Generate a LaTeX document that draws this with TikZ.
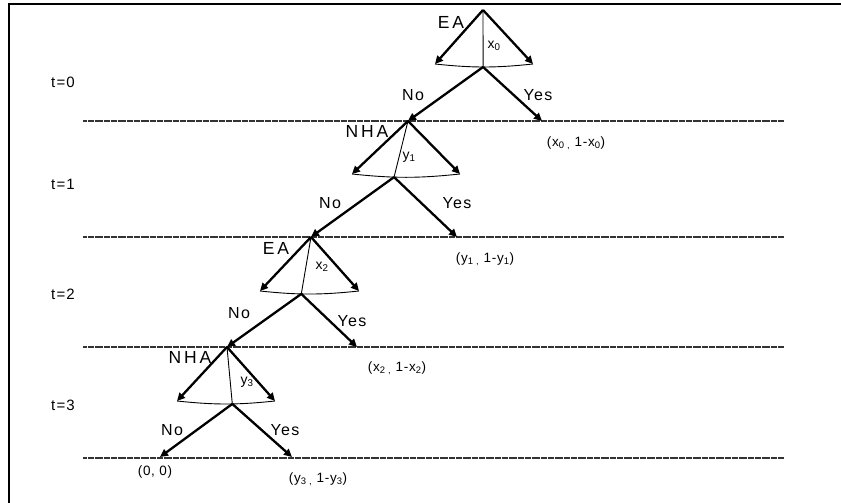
\documentclass[tikz,border=0pt]{standalone}
\usepackage{fontspec}
\setmainfont{Liberation Sans}
\usetikzlibrary{arrows.meta}

\tikzset{
  move/.style={line width=2.3pt, -{Triangle[length=8pt,width=7.5pt]}},
  stem/.style={line width=0.9pt},
  period/.style={line width=1.6pt, black!80, dash pattern=on 2pt off 0.3pt},
  player/.style={font=\fontsize{17.5}{19}\selectfont\addfontfeature{LetterSpace=16}},
  answer/.style={font=\fontsize{16}{18}\selectfont\addfontfeature{LetterSpace=9}},
  offer/.style={font=\fontsize{14}{16}\selectfont},
  payoff/.style={font=\fontsize{13.5}{15}\selectfont\addfontfeature{LetterSpace=5}},
  stage/.style={font=\fontsize{15}{17}\selectfont\addfontfeature{LetterSpace=8}},
}

\begin{document}
\begin{tikzpicture}[x=1pt, y=-1pt]
  \useasboundingbox (0,0) rectangle (841,503);
  % frame
  \draw[line width=1.2pt] (9,503) -- (9,4) -- (841,4);
  % periods
  \foreach \y in {121,237,347,458} {\draw[period] (83,\y) -- (784,\y);}
  \foreach \t/\y in {0/82,1/184,2/294,3/405} {\node[stage] (t\t) at (63,\y) {t=\t};}

  % t=0 : EA offers x0
  \coordinate (a0) at (483,10);
  \coordinate (l0) at (435,64);
  \coordinate (r0) at (533,64);
  \coordinate (a1) at (408,121);
  \coordinate (e0) at (542,121);
  \draw[move] (a0) -- (l0);
  \draw[move] (a0) -- (r0);
  \draw[stem] (l0) to[bend right=6] node[pos=0.49, coordinate] (s0) {} (r0);
  \draw[stem] (a0) -- (s0);
  \draw[move] (s0) -- (a1);
  \draw[move] (s0) -- (e0);
  \node[player] (p0) at (451,22) {EA};
  \node[offer] (o0) at (494,46) {x\textsubscript{0}};
  \node[answer] (n0) at (413,95) {No};
  \node[answer] (y0) at (538,95) {Yes};
  \node[payoff] (u0) at (576,143) {(x\textsubscript{0 ,} 1-x\textsubscript{0})};

  % t=1 : NHA offers y1
  \coordinate (l1) at (352,174);
  \coordinate (r1) at (460,174);
  \coordinate (a2) at (311,237);
  \coordinate (e1) at (457,237);
  \draw[move] (a1) -- (l1);
  \draw[move] (a1) -- (r1);
  \draw[stem] (l1) to[bend right=6] node[pos=0.38, coordinate] (s1) {} (r1);
  \draw[stem] (a1) -- (s1);
  \draw[move] (s1) -- (a2);
  \draw[move] (s1) -- (e1);
  \node[player] (p1) at (367,131) {NHA};
  \node[offer] (o1) at (409,157) {y\textsubscript{1}};
  \node[answer] (n1) at (330,203) {No};
  \node[answer] (y1) at (457,203) {Yes};
  \node[payoff] (u1) at (485,259) {(y\textsubscript{1 ,} 1-y\textsubscript{1})};

  % t=2 : EA offers x2
  \coordinate (l2) at (260,291);
  \coordinate (r2) at (359,291);
  \coordinate (a3) at (227,347);
  \coordinate (e2) at (357,347);
  \draw[move] (a2) -- (l2);
  \draw[move] (a2) -- (r2);
  \draw[stem] (l2) to[bend right=6] node[pos=0.41, coordinate] (s2) {} (r2);
  \draw[stem] (a2) -- (s2);
  \draw[move] (s2) -- (a3);
  \draw[move] (s2) -- (e2);
  \node[player] (p2) at (276,248) {EA};
  \node[offer] (o2) at (322,267) {x\textsubscript{2}};
  \node[answer] (n2) at (239,313) {No};
  \node[answer] (y2) at (352,321) {Yes};
  \node[payoff] (u2) at (397,368) {(x\textsubscript{2 ,} 1-x\textsubscript{2})};

  % t=3 : NHA offers y3
  \coordinate (l3) at (177,401);
  \coordinate (r3) at (275,401);
  \coordinate (a4) at (160,457);
  \coordinate (e3) at (292,457);
  \draw[move] (a3) -- (l3);
  \draw[move] (a3) -- (r3);
  \draw[stem] (l3) to[bend right=6] node[pos=0.57, coordinate] (s3) {} (r3);
  \draw[stem] (a3) -- (s3);
  \draw[move] (s3) -- (a4);
  \draw[move] (s3) -- (e3);
  \node[player] (p3) at (190,357) {NHA};
  \node[offer] (o3) at (247,382) {y\textsubscript{3}};
  \node[answer] (n3) at (172,430) {No};
  \node[answer] (y3) at (285,430) {Yes};
  \node[payoff] (u4) at (155,472) {(0, 0)};
  \node[payoff] (u3) at (318,479) {(y\textsubscript{3 ,} 1-y\textsubscript{3})};
\end{tikzpicture}
\end{document}
